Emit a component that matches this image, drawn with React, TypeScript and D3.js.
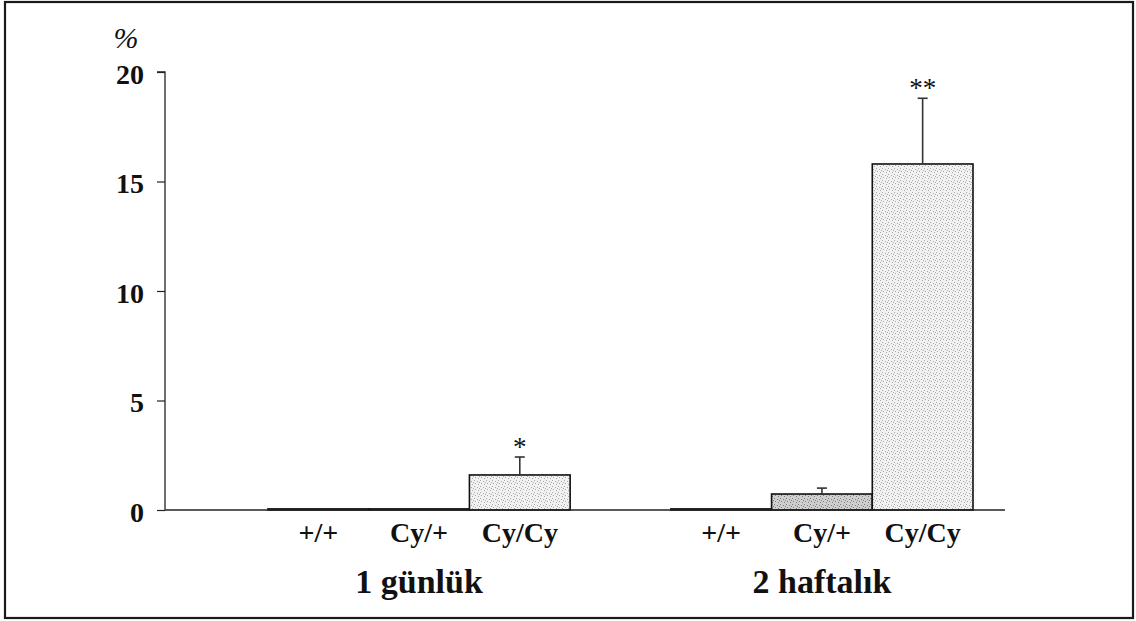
import { useEffect, useRef } from "react";
import * as d3 from "d3";

// data
const groups = ["1 günlük", "2 haftalık"];
const genotypes = ["+/+", "Cy/+", "Cy/Cy"];
const means1 = [0.05, 0.05, 1.6];
const means2 = [0.05, 0.73, 15.8];
const errTop1 = [0, 0, 2.42];
const errTop2 = [0, 1.0, 18.8];
const signif1 = ["", "", "*"];
const signif2 = ["", "", "**"];
const yTicks = [0, 5, 10, 15, 20];

const FONT = "'Liberation Serif', 'Times New Roman', serif";

export default function App() {
  const ref = useRef<SVGSVGElement | null>(null);

  useEffect(() => {
    if (!ref.current) return;
    ref.current.innerHTML = "";

    const width = 1136,
      height = 621;
    const axisX = 165,
      axisEnd = 1005;

    const svg = d3.select(ref.current);

    // stipple fills
    const defs = svg.append("defs");
    const stipple = (id: string, bg: string, dot: string) => {
      const p = defs
        .append("pattern")
        .attr("id", id)
        .attr("patternUnits", "userSpaceOnUse")
        .attr("width", 6)
        .attr("height", 6);
      p.append("rect").attr("width", 6).attr("height", 6).attr("fill", bg);
      [
        [0, 0],
        [3, 1],
        [1, 3],
        [4, 4],
        [5, 2],
      ].forEach(([dx, dy]) =>
        p
          .append("rect")
          .attr("x", dx)
          .attr("y", dy)
          .attr("width", 1)
          .attr("height", 1)
          .attr("fill", dot)
      );
    };
    stipple("light", "#f1f1f1", "#a8a8a8");
    stipple("dark", "#cfcfcf", "#7d7d7d");

    // frame
    svg
      .append("rect")
      .attr("x", 5)
      .attr("y", 2)
      .attr("width", width - 8)
      .attr("height", height - 5)
      .attr("fill", "none")
      .attr("stroke", "#1a1a1a")
      .attr("stroke-width", 2.2);

    const y = d3.scaleLinear().domain([0, 20]).range([510, 72]);

    const x0 = d3
      .scaleBand<string>()
      .domain(groups)
      .range([268, 973])
      .paddingInner(0.25);
    const x1 = d3
      .scaleBand<string>()
      .domain(genotypes)
      .range([0, x0.bandwidth()]);

    // y axis
    const yAxis = svg
      .append("g")
      .attr("transform", `translate(${axisX},0)`)
      .call(d3.axisLeft(y).tickValues(yTicks).tickSize(8).tickPadding(13));
    yAxis.select(".domain").attr("stroke", "#222").attr("stroke-width", 1.3)
      .attr("d", `M-8,${y(20)}H0V${y(0)}`);
    yAxis.selectAll(".tick line").attr("stroke", "#222").attr("stroke-width", 1.2);
    yAxis
      .selectAll(".tick text")
      .attr("font-family", FONT)
      .attr("font-size", 28)
      .attr("font-weight", "bold")
      .attr("fill", "#111")
      .attr("dy", "0.4em");

    svg
      .append("text")
      .attr("x", 126)
      .attr("y", 48)
      .attr("text-anchor", "middle")
      .attr("font-family", FONT)
      .attr("font-style", "italic")
      .attr("font-size", 30)
      .attr("fill", "#111")
      .text("%");

    const series = [
      { g: groups[0], means: means1, err: errTop1, sig: signif1 },
      { g: groups[1], means: means2, err: errTop2, sig: signif2 },
    ];

    series.forEach((s) => {
      const gx = x0(s.g)!;
      genotypes.forEach((gt, i) => {
        const bx = gx + x1(gt)!;
        const bw = x1.bandwidth();
        const cx = bx + bw / 2;
        const fill = gt === "Cy/Cy" ? "url(#light)" : gt === "Cy/+" ? "url(#dark)" : "#fff";
        svg
          .append("rect")
          .attr("x", bx)
          .attr("y", y(s.means[i]))
          .attr("width", bw)
          .attr("height", y(0) - y(s.means[i]))
          .attr("fill", fill)
          .attr("stroke", "#111")
          .attr("stroke-width", 1.6);

        if (s.err[i] > s.means[i]) {
          svg
            .append("line")
            .attr("x1", cx)
            .attr("x2", cx)
            .attr("y1", y(s.means[i]))
            .attr("y2", y(s.err[i]))
            .attr("stroke", "#333")
            .attr("stroke-width", 1.6);
          svg
            .append("line")
            .attr("x1", cx - 5)
            .attr("x2", cx + 5)
            .attr("y1", y(s.err[i]))
            .attr("y2", y(s.err[i]))
            .attr("stroke", "#333")
            .attr("stroke-width", 1.6);
        }
        if (s.sig[i]) {
          svg
            .append("text")
            .attr("x", cx)
            .attr("y", y(s.err[i]) - 1)
            .attr("text-anchor", "middle")
            .attr("font-family", FONT)
            .attr("font-size", 27)
            .attr("fill", "#111")
            .text(s.sig[i]);
        }

        // genotype label
        svg
          .append("text")
          .attr("x", cx)
          .attr("y", 542)
          .attr("text-anchor", "middle")
          .attr("font-family", FONT)
          .attr("font-size", 28)
          .attr("font-weight", "bold")
          .attr("fill", "#111")
          .text(gt);
      });

      // group label
      svg
        .append("text")
        .attr("x", gx + x0.bandwidth() / 2)
        .attr("y", 593)
        .attr("text-anchor", "middle")
        .attr("font-family", FONT)
        .attr("font-size", 34)
        .attr("font-weight", "bold")
        .attr("fill", "#111")
        .text(s.g);
    });

    // baseline
    svg
      .append("line")
      .attr("x1", axisX)
      .attr("x2", axisEnd)
      .attr("y1", y(0))
      .attr("y2", y(0))
      .attr("stroke", "#222")
      .attr("stroke-width", 1.3);
  }, []);

  return (
    <div style={{ position: "absolute", left: 0, top: 0 }}>
      <svg ref={ref} width={1136} height={621} style={{ display: "block", background: "#fff" }} />
    </div>
  );
}
